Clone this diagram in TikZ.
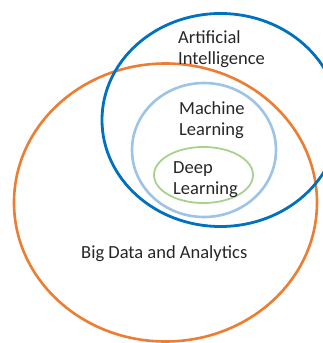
\documentclass[tikz,border=0pt]{standalone}
\usepackage{fontspec}
\setmainfont{Carlito}
\definecolor{aiblue}{HTML}{0070C0}
\definecolor{bdorange}{HTML}{ED7D31}
\definecolor{mlblue}{HTML}{9DC3E6}
\definecolor{dlgreen}{HTML}{A9D18E}
\begin{document}
\begin{tikzpicture}[x=1pt,y=-1pt,
  lbl/.style={inner sep=0pt,anchor=base west,align=left,font=\fontsize{18.5}{21}\selectfont,text=black!85}]
\useasboundingbox (0,0) rectangle (322,343);
\draw[bdorange,line width=2.6pt] (165.5,202.5) ellipse [x radius=151.5, y radius=139];
\draw[aiblue,line width=2.8pt] (220.5,120) ellipse [x radius=118.5, y radius=106.5];
\draw[mlblue,line width=2.6pt] (204,150) ellipse [x radius=72, y radius=67];
\draw[dlgreen,line width=1.8pt] (203.5,175) ellipse [x radius=49.5, y radius=28];
\node[lbl] (ai) at (178,64) {Artificial\\Intelligence};
\node[lbl] (ml) at (179,135) {Machine\\Learning};
\node[lbl] (dl) at (173,194) {Deep\\Learning};
\node[lbl] (bd) at (81,258) {Big Data and Analytics};
\end{tikzpicture}
\end{document}
